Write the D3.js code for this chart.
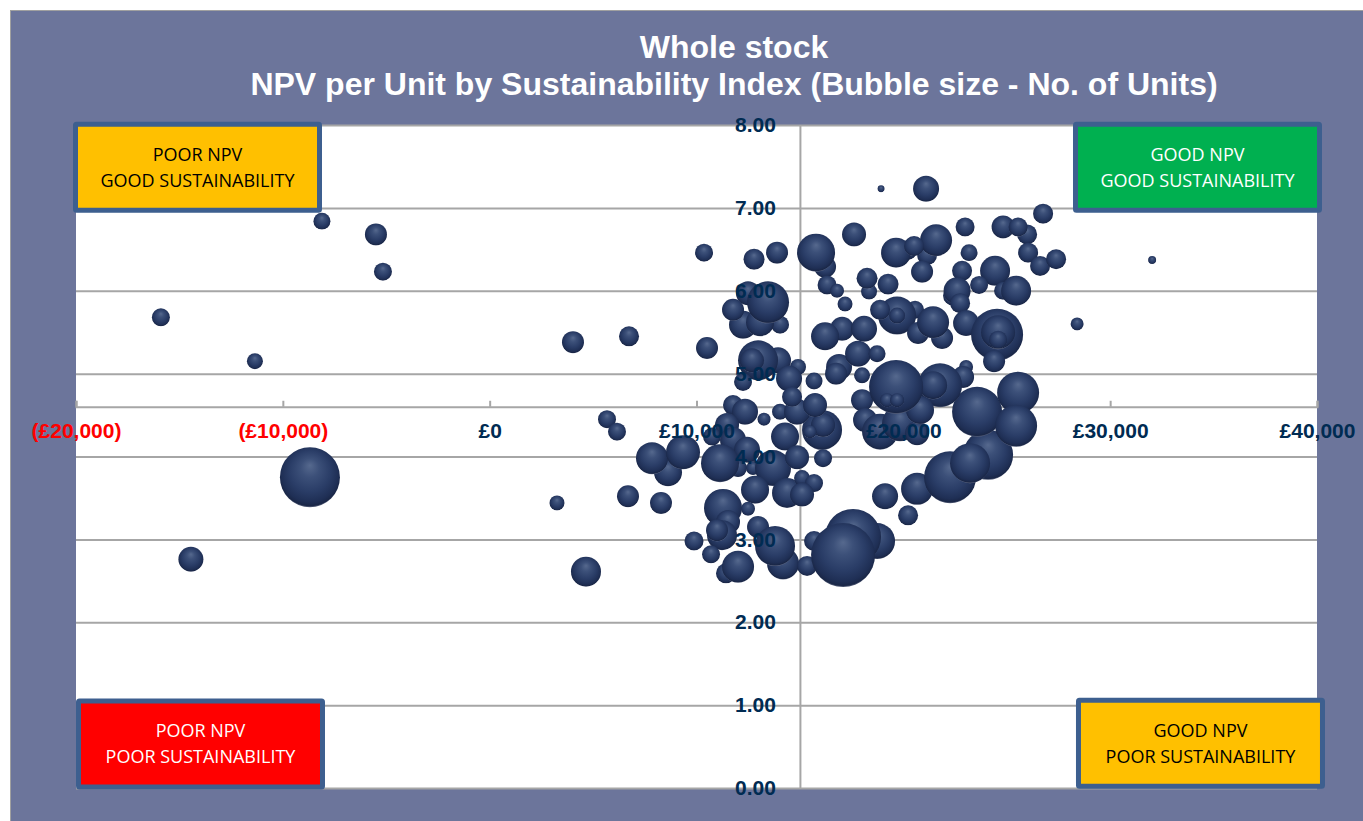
<!DOCTYPE html>
<html><head><meta charset="utf-8">
<script src="https://cdn.jsdelivr.net/npm/d3@7"></script>
<style>html,body{margin:0;padding:0;background:#fff;overflow:hidden}svg{display:block}</style>
</head><body><svg id="c" width="1363" height="821"></svg>
<script>
const titleLines=["Whole stock","NPV per Unit by Sustainability Index (Bubble size - No. of Units)"];
const xTicks=[-20000,-10000,0,10000,20000,30000,40000];
const yTicks=[0,1,2,3,4,5,6,7,8];
const npv=[-15896,-11350,-8110,-5498,-5160,-8690,-14445,3255,4657,4028,6737,32029,28402,5673,6156,8623,7849,9348,6688,8284,10364,12782,13894,10509,12250,14039,13072,12491,13459,11766,13942,12975,12685,12250,14909,15683,14474,11766,12346,13265,11476,10750,11766,12443,12008,11137,12733,13700,12830,14377,15103,15683,15103,16070,16118,15490,14281,14861,16118,14039,14861,15731,14619,11282,12491,11524,11234,10992,9880,10702,11427,12008,12975,14184,13797,15345,15683,18730,17569,17086,19117,20664,20229,24098,22260,23227,23566,25549,25452,18923,21099,26757,17617,16215,15780,21148,20181,19649,21583,20519,22986,25984,24823,25549,23179,26032,26612,27386,20906,22840,24436,23663,24823,25452,22405,22599,22744,23034,18343,18246,19262,16312,16795,17182,20567,19697,18875,19697,20712,21873,21438,17037,18101,16215,24533,24581,24581,24388,16892,16747,18004,17811,18730,23034,22889,21777,21438,18004,18149,18875,19842,20664,20809,19649,19213,19697];
const sustainability=[5.68,5.15,6.84,6.68,6.23,3.75,2.76,3.44,2.61,5.38,5.45,6.37,5.60,4.45,4.30,3.81,3.98,4.05,3.52,3.44,6.46,6.38,6.46,5.31,5.59,5.59,5.62,5.97,5.86,5.77,5.16,5.16,5.16,4.90,5.08,4.91,4.94,4.62,4.54,4.45,4.38,4.24,4.20,4.08,3.86,3.92,3.86,3.86,3.60,3.56,3.74,3.68,3.54,4.32,4.38,4.30,4.24,3.99,3.98,4.54,4.54,4.62,4.72,3.38,3.37,3.21,3.05,3.11,2.98,2.82,2.59,2.67,3.15,2.71,2.92,2.68,2.98,2.98,3.03,2.81,3.52,3.61,3.29,4.02,3.75,3.92,4.54,4.77,4.37,7.23,7.23,6.93,6.68,6.29,6.46,6.43,6.49,6.46,6.61,6.54,6.77,6.68,6.77,6.77,6.46,6.46,6.30,6.38,6.23,6.24,6.24,6.07,6.00,6.00,5.94,6.00,5.85,5.61,5.99,6.15,6.08,6.07,6.00,5.84,5.77,5.70,5.77,5.70,5.49,5.43,5.62,5.54,5.54,5.45,5.47,5.50,5.41,5.15,5.08,5.00,4.98,5.24,5.24,5.08,4.96,4.86,4.86,4.68,4.44,4.30,4.40,4.28,4.56,4.84,4.68,4.68];
const units=[81,64,72,121,81,900,156,56,225,121,100,16,42,81,81,196,256,289,121,121,81,110,121,121,196,81,196,144,441,121,169,400,144,81,64,72,169,100,169,42,144,81,169,169,81,361,49,324,196,225,64,81,144,400,144,42,196,144,81,64,169,144,100,361,49,144,225,121,90,81,100,256,121,256,400,100,100,324,784,1024,169,256,100,625,676,400,625,441,441,12,169,100,144,121,361,100,100,225,256,100,90,100,132,90,72,100,100,100,121,100,225,81,81,225,100,182,100,169,64,110,110,90,49,56,81,361,100,64,121,121,256,144,169,196,676,289,81,121,169,121,64,169,72,49,121,484,196,121,144,324,324,144,196,729,49,49];
const quadrants=[
 {l:["POOR NPV","GOOD SUSTAINABILITY"],x:-20145,y:8.04,fill:"#ffc000",ink:"#000"},
 {l:["GOOD NPV","GOOD SUSTAINABILITY"],x:28203,y:8.04,fill:"#00b050",ink:"#fff"},
 {l:["POOR NPV","POOR SUSTAINABILITY"],x:-20000,y:1.08,fill:"#ff0000",ink:"#fff"},
 {l:["GOOD NPV","POOR SUSTAINABILITY"],x:28347,y:1.09,fill:"#ffc000",ink:"#000"}];

const svg=d3.select("#c");
const x=d3.scaleLinear().domain([-20000,40000]).range([76,1317]);
const y=d3.scaleLinear().domain([0,8]).range([788,125]);
const r=d3.scaleSqrt().domain([0,1024]).range([0,32]);
const money=v=>v<0?`(£${d3.format(",")(-v)})`:`£${d3.format(",")(v)}`;
const grey="#a6a6a6", navy="#002b52", crossX=15000, crossY=4.6;

const defs=svg.append("defs");
const g=defs.append("radialGradient").attr("id","ball").attr("cx",.5).attr("cy",.46).attr("r",.55).attr("fx",.5).attr("fy",.3);
[[0,"#56698e"],[.28,"#3c5079"],[.62,"#2a3d67"],[.86,"#1f2f55"],[.95,"#1a2747"],[1,"#7a8198"]].forEach(s=>g.append("stop").attr("offset",s[0]).attr("stop-color",s[1]));

svg.append("rect").attr("x",10.5).attr("y",10.5).attr("width",1354).attr("height",812).attr("fill","#6c759b").attr("stroke","#a0a0a0");
svg.append("rect").attr("x",x(-20000)).attr("y",y(8)).attr("width",x(40000)-x(-20000)).attr("height",y(0)-y(8)).attr("fill","#fff");

svg.selectAll(".title").data(titleLines).join("text").attr("class","title")
 .attr("x",734).attr("y",(d,i)=>58+i*37).attr("text-anchor","middle")
 .attr("font-family","'Liberation Sans',Arial,sans-serif").attr("font-weight",700).attr("font-size",32).attr("fill","#fff").text(d=>d);

// horizontal grid lines and axis lines, below the bubbles
svg.append("g").attr("transform",`translate(${x(-20000)},0)`)
 .call(d3.axisLeft(y).tickValues(yTicks).tickSize(-(x(40000)-x(-20000))).tickFormat(""))
 .call(s=>{s.select(".domain").remove();s.selectAll("line").attr("stroke",grey).attr("stroke-width",2);});
svg.append("g").attr("transform",`translate(0,${y(crossY)})`)
 .call(d3.axisTop(x).tickValues(xTicks).tickSize(6).tickFormat(""))
 .call(s=>{s.selectAll("path,line").attr("stroke",grey).attr("stroke-width",2);});
svg.append("g").attr("transform",`translate(${x(crossX)},0)`)
 .call(d3.axisLeft(y).tickValues([]).tickSizeOuter(0))
 .call(s=>{s.selectAll("path").attr("stroke",grey).attr("stroke-width",2);});

svg.append("g").selectAll("circle").data(npv.map((v,i)=>({v,s:sustainability[i],u:units[i]}))).join("circle")
 .attr("cx",d=>x(d.v)).attr("cy",d=>y(d.s)).attr("r",d=>r(d.u)).attr("fill","url(#ball)");

// tick labels sit above the bubbles
svg.append("g").attr("transform",`translate(0,${y(crossY)})`)
 .call(d3.axisBottom(x).tickValues(xTicks).tickSize(0).tickPadding(16).tickFormat(money))
 .call(s=>{s.select(".domain").remove();s.selectAll("text").attr("font-family","'Liberation Sans',Arial,sans-serif").attr("font-weight",700).attr("font-size",21).attr("fill",d=>d<0?"#ff0000":navy);});
svg.append("g").attr("transform",`translate(${x(crossX)},0)`)
 .call(d3.axisLeft(y).tickValues(yTicks).tickSize(0).tickPadding(24).tickFormat(d3.format(".2f")))
 .call(s=>{s.select(".domain").remove();s.selectAll("text").attr("font-family","'Liberation Sans',Arial,sans-serif").attr("font-weight",700).attr("font-size",21).attr("fill",navy);});

const q=svg.append("g").selectAll("g").data(quadrants).join("g").attr("transform",d=>`translate(${x(d.x)},${y(d.y)})`);
q.append("rect").attr("x",2.5).attr("y",2.5).attr("width",244).attr("height",86).attr("rx",1).attr("fill",d=>d.fill).attr("stroke","#3d5f8f").attr("stroke-width",5);
q.each(function(d){d3.select(this).selectAll("text").data(d.l).join("text")
 .attr("x",124.5).attr("y",(t,i)=>39+i*26).attr("text-anchor","middle").attr("font-family","'Open Sans',sans-serif").attr("font-size",18).attr("fill",d.ink).text(t=>t);});
</script></body></html>
